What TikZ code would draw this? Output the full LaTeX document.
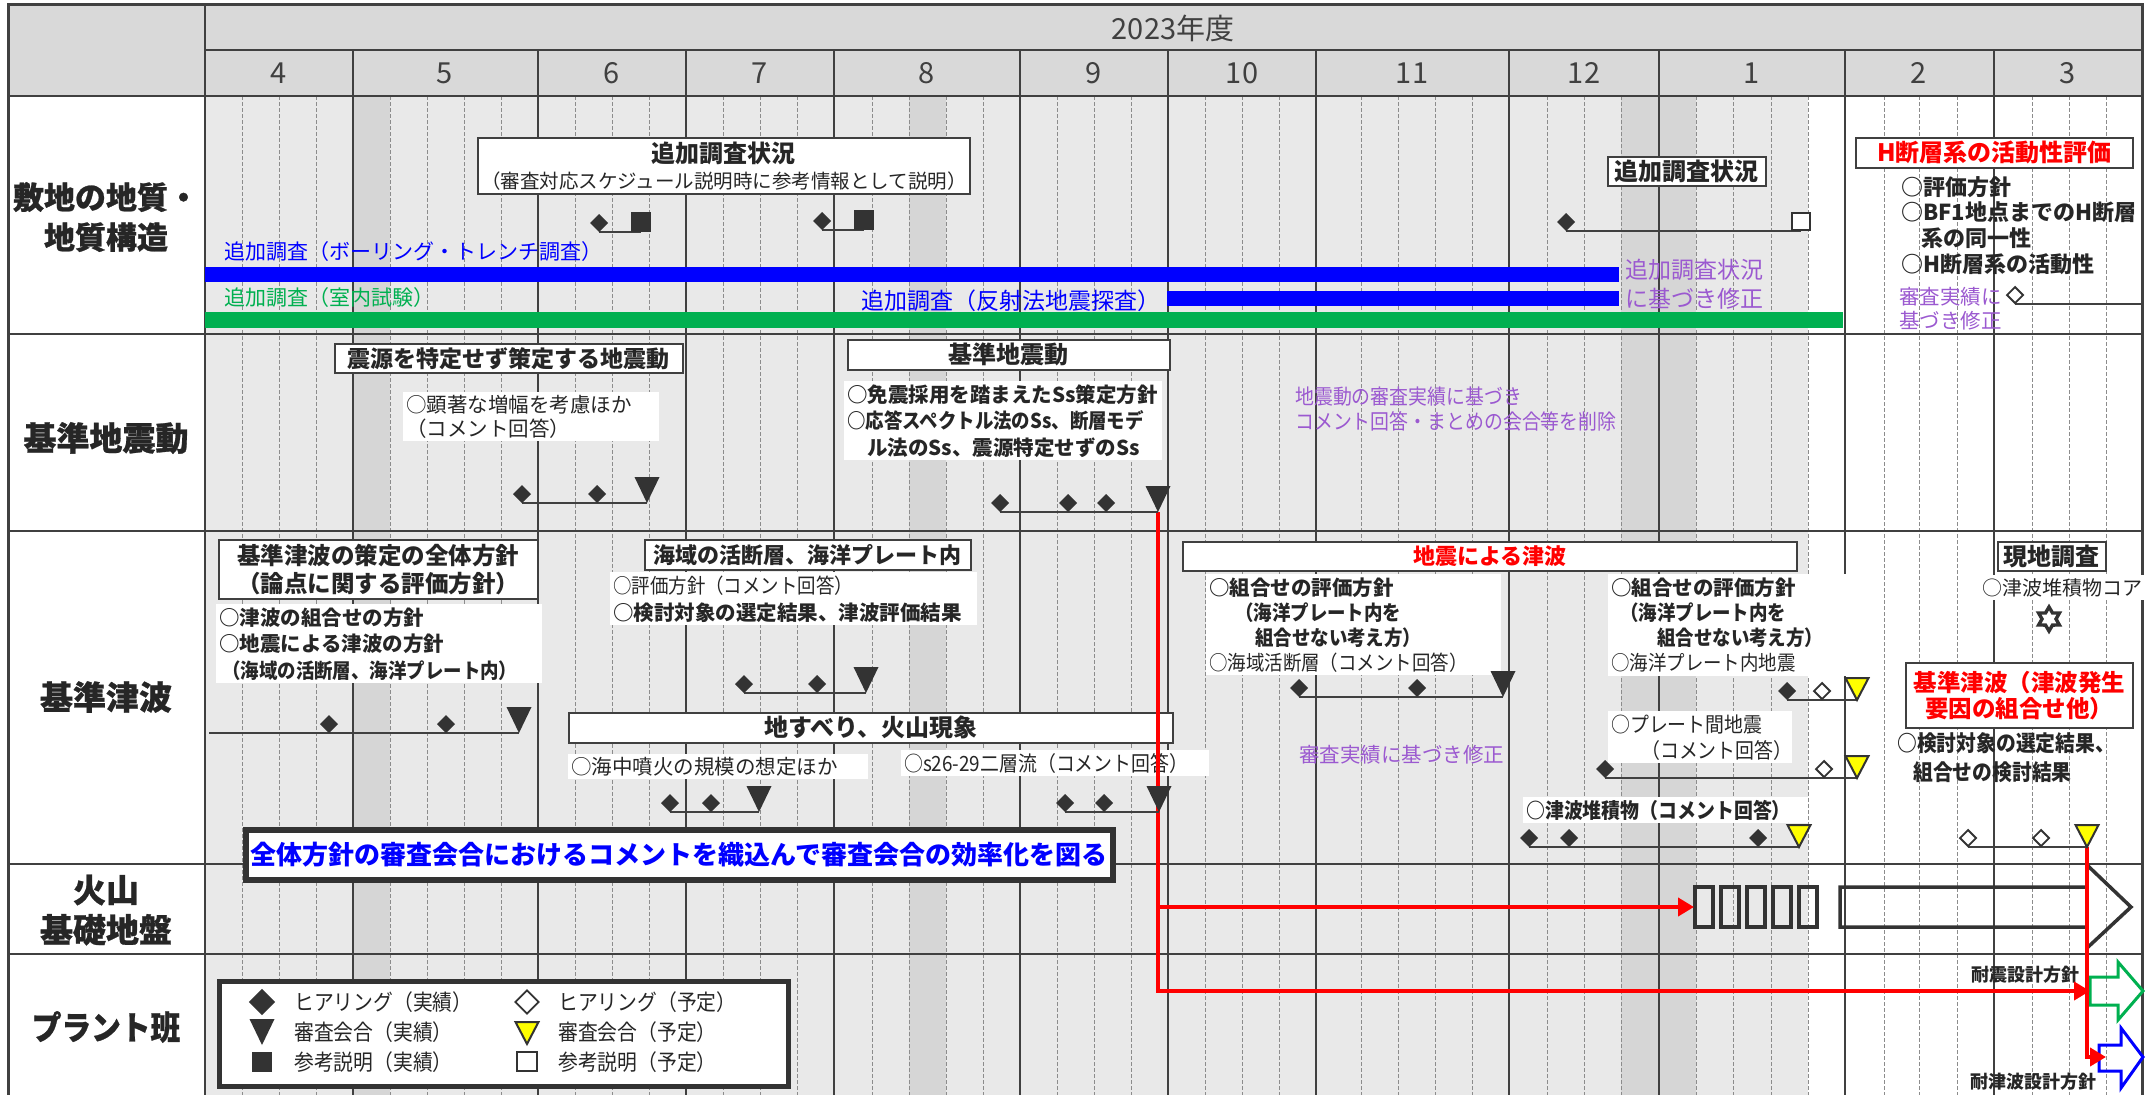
\documentclass[tikz,border=0pt]{standalone}
\usepackage{fontspec}
\setmainfont{Noto Sans CJK JP}
\newfontfamily\nrw{Noto Sans CJK JP}[FakeStretch=0.9]
\newfontfamily\hvy{Noto Sans CJK JP}[FakeBold=0.8]
\newfontfamily\hvynrw{Noto Sans CJK JP}[FakeBold=0.8,FakeStretch=0.9]
\usetikzlibrary{arrows.meta}
\newcommand{\myfz}[2]{\fontsize{#1}{#2}\selectfont}
\definecolor{txt}{HTML}{262626}
\definecolor{lnc}{HTML}{404040}
\definecolor{hdr}{HTML}{D9D9D9}
\definecolor{bgc}{HTML}{E9E9E9}
\definecolor{band}{HTML}{D6D6D6}
\definecolor{wk}{HTML}{8C8C8C}
\definecolor{pur}{RGB}{155,89,208}
\definecolor{grn}{HTML}{00B050}
\definecolor{blu}{HTML}{0000FF}
\definecolor{rd}{HTML}{FF0000}
\definecolor{ylw}{HTML}{FFFF00}
\definecolor{mk}{HTML}{333333}
\begin{document}
\begin{tikzpicture}[x=1pt,y=-1pt,
 every node/.style={text=txt, inner sep=0pt},
 tbox/.style={draw=lnc, line width=1.6pt, fill=white, font=\bfseries\myfz{24}{28}},
 wbg/.style={fill=white, inner xsep=3pt, inner ysep=3pt, align=left, anchor=base west},
 blk/.style={align=left, anchor=base west},
 ptext/.style={text=pur, align=left, anchor=base west},
 hdt/.style={text=lnc, font=\myfz{29}{32}},
 lbl/.style={font=\hvy\bfseries\myfz{33}{40}, align=center},
 msl/.style={draw=lnc, line width=2pt},
 redar/.style={draw=rd, line width=4pt, line join=miter, -{Triangle[length=16pt,width=18pt]}},
 thk/.style={draw=mk, line width=3.5pt, line join=miter},
 wkl/.style={draw=wk, line width=0.8pt, dash pattern=on 4pt off 2pt},
 mol/.style={draw=lnc, line width=1.5pt},
 rowl/.style={draw=lnc, line width=2pt},
 dia/.pic={\fill[mk] (0,0) -- (-9,-9) -- (0,-18) -- (9,-9) -- cycle;},
 odia/.pic={\filldraw[fill=white,draw=mk,line width=1.8pt] (0,-1) -- (-8,-9) -- (0,-17) -- (8,-9) -- cycle;},
 tri/.pic={\fill[mk] (-12.5,-26) -- (12.5,-26) -- (0,0) -- cycle;},
 ytri/.pic={\filldraw[fill=ylw,draw=mk,line width=2pt] (-11.5,-22) -- (11.5,-22) -- (0,0) -- cycle;},
 sqr/.pic={\fill[mk] (-10,0) rectangle (10,-20);},
 osqr/.pic={\filldraw[fill=white,draw=mk,line width=2pt] (-9,-1) rectangle (9,-18);}
]
\useasboundingbox (0,0) rectangle (2145,1095);
% ---------- background grid ----------
\fill[white] (0,0) rectangle (2145,1095);
\fill[hdr] (8,4) rectangle (2142,96);
\fill[bgc] (205,96) rectangle (1808,1095);
\foreach \a/\b in {353/390, 909/946, 1621/1696} \fill[band] (\a,96) rectangle (\b,1095);
\foreach \x in {242,279,316,390,427,464,501,575,612,649,723,760,797,872,909,946,983,1057,1094,1131,1205,1242,1279,1361,1398,1435,1472,1547,1584,1621,1696,1733,1771,1808,1884,1919,1957,2032,2069,2106}
  \draw[wkl] (\x,96) -- (\x,1095);
\foreach \x in {353,538,686,834,1020,1168,1316,1509,1659,1845,1994}
  \draw[mol] (\x,50) -- (\x,1095);
\draw[rowl] (205,50) -- (2142,50);
\foreach \y in {96,334,531,864,954} \draw[rowl] (8,\y) -- (2142,\y);
\draw[rowl] (205,4) -- (205,1095);
\draw[draw=lnc, line width=3pt] (8,1095) -- (8,4) -- (2142,4) -- (2142,1095);
% ---------- header ----------
\node[hdt] (yr) at (1173,28) {2023年度};
\foreach \m/\x in {4/279, 5/445, 6/612, 7/760, 8/927, 9/1094, 10/1242, 11/1412, 12/1584, 1/1752, 2/1919, 3/2068}
  \node[hdt] (m\m) at (\x,73) {\m};
% ---------- row labels ----------
\node[lbl, font=\hvy\bfseries\myfz{31}{40}] (L1) at (106,217) {敷地の地質・\\地質構造};
\node[lbl] (L2) at (106,438) {基準地震動};
\node[lbl] (L3) at (106,697) {基準津波};
\node[lbl] (L4) at (106,910) {火山\\基礎地盤};
\node[lbl, font=\hvynrw\bfseries\myfz{33}{40}] (L5) at (106,1027) {プラント班};
% ---------- row 1 ----------
\node[tbox, font=\myfz{19.5}{26}, align=center, minimum width=492pt, minimum height=56pt, anchor=north west] (B1) at (477,137)
  {{\bfseries\myfz{24}{26}追加調査状況}\\（審査対応スケジュール説明時に参考情報として説明）};
\node[tbox, minimum width=158pt, minimum height=29pt, anchor=north west] (B2) at (1607,156) {追加調査状況};
\fill[blu] (205,267) rectangle (1619,282);
\fill[blu] (1167,291) rectangle (1619,306);
\fill[grn] (205,312) rectangle (1843,328);
\node[text=blu, font=\myfz{21}{25}, anchor=base west] (T1) at (224,259) {追加調査（ボーリング・トレンチ調査）};
\node[text=grn, font=\myfz{21}{25}, anchor=base west] (T2) at (224,305) {追加調査（室内試験）};
\node[text=blu, font=\myfz{23}{25}, anchor=base east] (T3) at (1161,309) {追加調査（反射法地震探査）};
\node[ptext, text width=160pt, font=\myfz{23}{29}] (T4) at (1625,278) {追加調査状況\\に基づき修正};
\node[tbox, text=rd, minimum width=277pt, minimum height=30pt, anchor=north west] (B3) at (1855,137) {H断層系の活動性評価};
\node[blk, text width=240pt, font=\bfseries\myfz{22}{25.7}] (T5) at (1901,195) {○評価方針\\○BF1地点までのH断層\\\hspace*{20pt}系の同一性\\○H断層系の活動性};
\node[ptext, text width=120pt, font=\myfz{20.5}{24}] (T6) at (1899,304) {審査実績に\\基づき修正};
% ---------- row 2 ----------
\node[tbox, font=\bfseries\myfz{23}{28}, minimum width=348pt, minimum height=29pt, anchor=north west] (B4) at (334,343) {震源を特定せず策定する地震動};
\node[wbg, text width=250pt, font=\myfz{20.5}{24}] (T7) at (403,412) {○顕著な増幅を考慮ほか\\（コメント回答）};
\node[tbox, minimum width=322pt, minimum height=30pt, anchor=north west] (B5) at (847,339) {基準地震動};
\node[wbg, text width=312pt, font=\bfseries\myfz{20.5}{26.5}] (T8) at (844,402)
  {○免震採用を踏まえたSs策定方針\\{\nrw ○応答スペクトル法のSs、断層モデ}\\\hspace*{20pt}ル法のSs、震源特定せずのSs};
\node[ptext, text width=330pt, font=\nrw\myfz{21}{25}] (T9) at (1295,404) {地震動の審査実績に基づき\\コメント回答・まとめの会合等を削除};
% ---------- row 3 ----------
\node[tbox, align=center, font=\bfseries\myfz{23.5}{28}, minimum width=319pt, minimum height=59pt, anchor=north west] (B6) at (218,539) {基準津波の策定の全体方針\\（論点に関する評価方針）};
\node[wbg, text width=320pt, font=\bfseries\myfz{20.5}{26.5}] (T10) at (216,625) {○津波の組合せの方針\\○地震による津波の方針\\{\nrw\hspace*{3pt}（海域の活断層、海洋プレート内）}};
\node[tbox, font=\bfseries\myfz{22}{28}, minimum width=326pt, minimum height=30pt, anchor=north west] (B7) at (644,539) {海域の活断層、海洋プレート内};
\node[wbg, text width=361pt, font=\myfz{20.5}{27}] (T11) at (610,593) {{\nrw ○評価方針（コメント回答）}\\{\bfseries ○検討対象の選定結果、津波評価結果}};
\node[tbox, minimum width=604pt, minimum height=30pt, anchor=north west] (B8) at (568,712) {地すべり、火山現象};
\node[wbg, text width=294pt, font=\myfz{20.5}{25}] (T12) at (568,774) {○海中噴火の規模の想定ほか};
\node[wbg, text width=302pt, font=\nrw\myfz{21}{25}] (T13) at (901,771) {○s26-29二層流（コメント回答）};
\node[draw=mk, line width=5.5pt, fill=white, minimum width=867pt, minimum height=50pt, anchor=north west, text=blu, font=\bfseries\myfz{26}{30}] (B9) at (243,827) {全体方針の審査会合におけるコメントを織込んで審査会合の効率化を図る};
\node[tbox, text=rd, font=\bfseries\myfz{22}{28}, minimum width=614pt, minimum height=29pt, anchor=north west] (B10) at (1182,541) {地震による津波};
\node[wbg, text width=289pt, font=\bfseries\myfz{20.5}{25}] (T14) at (1206,595)
  {○組合せの評価方針\\{\nrw\hspace*{26pt}（海洋プレート内を}\\{\nrw\hspace*{46pt}組合せない考え方）}\\{\mdseries\nrw ○海域活断層（コメント回答）}};
\node[ptext, font=\myfz{20.5}{25}] (T15) at (1299,762) {審査実績に基づき修正};
\node[wbg, text width=232pt, font=\bfseries\myfz{20.5}{25.3}] (T16) at (1608,595)
  {○組合せの評価方針\\{\nrw\hspace*{9pt}（海洋プレート内を}\\{\nrw\hspace*{46pt}組合せない考え方）}\\{\mdseries\nrw ○海洋プレート内地震}};
\node[wbg, text width=178pt, font=\nrw\myfz{21}{26}] (T17) at (1608,732) {○プレート間地震\\\hspace*{30pt}（コメント回答）};
\node[wbg, text width=279pt, font=\bfseries\nrw\myfz{21}{25}] (T18) at (1523,818) {○津波堆積物（コメント回答）};
\node[tbox, minimum width=108pt, minimum height=29pt, anchor=north west] (B11) at (1997,541) {現地調査};
\node[wbg, text width=161pt, font=\myfz{20}{25}] (T19) at (1979,595) {○津波堆積物コア};
\draw[mk, line width=3.4pt, line join=miter] (2049,619) +(90:12) -- +(120:7) -- +(150:12) -- +(180:7) -- +(210:12) -- +(240:7) -- +(270:12) -- +(300:7) -- +(330:12) -- +(0:7) -- +(30:12) -- +(60:7) -- cycle;
\node[tbox, text=rd, align=center, font=\bfseries\myfz{23.5}{26}, minimum width=227pt, minimum height=65pt, anchor=north west] (B12) at (1905,662) {基準津波（津波発生\\要因の組合せ他）};
\node[blk, text width=240pt, font=\bfseries\nrw\myfz{22}{29}] (T20) at (1897,751) {○検討対象の選定結果、\\\hspace*{16pt}組合せの検討結果};
% ---------- row 4 ----------
\foreach \a in {1695,1721,1747,1773,1799} \draw[thk] (\a,887) rectangle (\a+18,927);
\draw[thk] (1840,887) -- (2087,887) -- (2087,865) -- (2131,907) -- (2087,948) -- (2087,927) -- (1840,927) -- cycle;
% ---------- row 5 ----------
\node[draw=mk, line width=4.5pt, fill=white, minimum width=569pt, minimum height=105pt, anchor=north west] (LG) at (217,979) {};
\pic[scale=1.45] at (262,1015) {dia};
\pic at (262,1045) {tri};
\pic at (262,1072) {sqr};
\pic[scale=1.45] at (527,1015) {odia};
\pic at (527,1044) {ytri};
\pic[scale=1.1] at (527,1072) {osqr};
\node[blk, font=\nrw\myfz{22}{26}] (LT1) at (294,1010) {ヒアリング（実績）};
\node[blk, font=\nrw\myfz{22}{26}] (LT2) at (294,1040) {審査会合（実績）};
\node[blk, font=\nrw\myfz{22}{26}] (LT3) at (294,1070) {参考説明（実績）};
\node[blk, font=\nrw\myfz{22}{26}] (LT4) at (558,1010) {ヒアリング（予定）};
\node[blk, font=\nrw\myfz{22}{26}] (LT5) at (558,1040) {審査会合（予定）};
\node[blk, font=\nrw\myfz{22}{26}] (LT6) at (558,1070) {参考説明（予定）};
\node[font=\bfseries\myfz{18}{20}] (T21) at (2025,975) {耐震設計方針};
\node[font=\bfseries\myfz{18}{20}] (T22) at (2033,1082) {耐津波設計方針};
\draw[draw=grn, line width=3pt, line join=miter] (2090,977) -- (2118,977) -- (2118,962) -- (2143,991) -- (2118,1020) -- (2118,1005) -- (2090,1005) -- cycle;
\draw[draw=blu, line width=3pt, line join=miter] (2099,1045) -- (2121,1045) -- (2121,1028) -- (2143,1057) -- (2121,1088) -- (2121,1071) -- (2099,1071) -- cycle;
% ---------- red flows ----------
\coordinate (ra) at (1158,512);
\coordinate (rb) at (1158,991);
\coordinate (rc) at (2090,991);
\coordinate (rd1) at (1158,907);
\coordinate (re) at (1694,907);
\coordinate (rf) at (2087,847);
\coordinate (rg) at (2087,1057);
\coordinate (rh) at (2106,1057);
\draw[redar] (ra) -- (rb) -- (rc);
\draw[redar] (rd1) -- (re);
\draw[redar] (rf) -- (rg) -- (rh);
% ---------- milestones ----------
\draw[msl] (599,232) -- (641,232); \pic at (599,232) {dia}; \pic at (641,232) {sqr};
\draw[msl] (822,230) -- (864,230); \pic at (822,230) {dia}; \pic at (864,230) {sqr};
\draw[msl] (1566,231) -- (1801,231); \pic at (1566,231) {dia}; \pic at (1801,231) {osqr};
\draw[msl] (2015,304) -- (2142,304); \pic at (2015,304) {odia};
\draw[msl] (522,503) -- (647,503); \pic at (522,503) {dia}; \pic at (597,503) {dia}; \pic at (647,503) {tri};
\draw[msl] (1000,512) -- (1158,512); \foreach \x in {1000,1068,1106} \pic at (\x,512) {dia}; \pic at (1158,512) {tri};
\draw[msl] (209,733) -- (519,733); \pic at (329,733) {dia}; \pic at (446,733) {dia}; \pic at (519,733) {tri};
\draw[msl] (744,693) -- (866,693); \pic at (744,693) {dia}; \pic at (817,693) {dia}; \pic at (866,693) {tri};
\draw[msl] (670,812) -- (759,812); \pic at (670,812) {dia}; \pic at (711,812) {dia}; \pic at (759,812) {tri};
\draw[msl] (1065,812) -- (1159,812); \pic at (1065,812) {dia}; \pic at (1104,812) {dia}; \pic at (1159,812) {tri};
\draw[msl] (1299,697) -- (1503,697); \pic at (1299,697) {dia}; \pic at (1417,697) {dia}; \pic at (1503,697) {tri};
\draw[msl] (1787,700) -- (1857,700); \pic at (1787,700) {dia}; \pic at (1822,700) {odia}; \pic at (1857,700) {ytri};
\draw[msl] (1605,778) -- (1857,778); \pic at (1605,778) {dia}; \pic at (1824,778) {odia}; \pic at (1857,778) {ytri};
\draw[msl] (1529,847) -- (1799,847); \foreach \x in {1529,1569,1758} \pic at (\x,847) {dia}; \pic at (1799,847) {ytri};
\draw[msl] (1968,847) -- (2087,847); \pic at (1968,847) {odia}; \pic at (2041,847) {odia}; \pic at (2087,847) {ytri};
\end{tikzpicture}
\end{document}
